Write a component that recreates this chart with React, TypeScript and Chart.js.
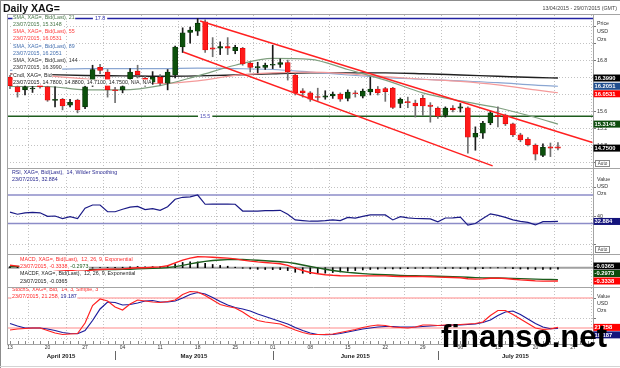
import React, { useEffect, useRef } from 'react';
import { Chart, registerables } from 'chart.js';

Chart.register(...registerables);

const FONT = '"Liberation Sans", Arial, sans-serif';
Chart.defaults.font.family = FONT;

// ---------- axis labels ----------
const dayLabels = ['13', '20', '27', '04', '11', '18', '25', '01', '08', '15', '22', '29', '06', '13', '20', '27'];
const mondayIdx = [0, 5, 10, 15, 20, 25, 30, 35, 40, 45, 50, 55, 60, 65, 70, 75];
const tradingDayCount = 78;
const monthLabels = ['April 2015', 'May 2015', 'June 2015', 'July 2015'];
const monthFirstIdx = [0, 14, 35, 57];
const lastDate = '23/07/2015';
const dateRange = '13/04/2015 - 29/07/2015 (GMT)';
const title = 'Daily XAG=';

// ---------- price candles ----------
const opens = [16.42, 16.19, 16.12, 16.14, 16.24, 16.19, 15.87, 15.9, 15.76, 15.88,
  15.72, 16.3, 16.65, 16.54, 16.12, 16.12, 16.38, 16.56, 16.4, 16.3,
  16.42, 16.28, 16.47, 17.13, 17.47, 17.5, 17.72, 17.11, 17.1, 17.14,
  17.04, 17.1, 16.75, 16.64, 16.65, 16.7, 16.72, 16.76, 16.47, 16.1,
  16.05, 15.95, 15.95, 15.98, 16.02, 15.92, 16.05, 15.97, 16.07, 16.14,
  16.15, 16.16, 15.8, 15.84, 15.81, 15.92, 15.76, 15.69, 15.52, 15.69,
  15.69, 15.7, 15.01, 15.1, 15.34, 15.53, 15.53, 15.32, 15.06, 14.96,
  14.82, 14.58, 14.78, 14.78];
const highs = [16.46, 16.22, 16.22, 16.2, 16.27, 16.21, 16.19, 15.92, 15.9, 15.9,
  16.21, 16.7, 16.72, 16.6, 16.18, 16.25, 16.62, 16.7, 16.45, 16.55,
  16.48, 16.6, 17.15, 17.58, 17.6, 17.8, 17.77, 17.35, 17.25, 17.35,
  17.17, 17.12, 16.77, 16.77, 16.75, 17.17, 16.85, 16.82, 16.5, 16.15,
  16.08, 16.16, 16.1, 16.07, 16.05, 16.12, 16.1, 16.14, 16.42, 16.2,
  16.18, 16.18, 15.93, 15.95, 15.88, 16.0, 15.82, 15.72, 15.72, 15.75,
  15.8, 15.72, 15.25, 15.38, 15.62, 15.72, 15.55, 15.34, 15.1, 15.0,
  14.85, 14.85, 14.87, 14.88];
const lows = [16.15, 15.95, 16.0, 16.06, 16.16, 15.85, 15.72, 15.65, 15.72, 15.58,
  15.68, 16.2, 16.5, 15.95, 15.82, 16.05, 16.3, 16.4, 16.2, 16.25,
  16.22, 16.12, 16.4, 17.0, 17.22, 17.4, 17.0, 16.9, 16.95, 16.95,
  16.97, 16.7, 16.54, 16.52, 16.6, 16.62, 16.65, 16.35, 16.0, 15.95,
  15.85, 15.87, 15.9, 15.92, 15.85, 15.86, 15.95, 15.93, 16.0, 16.0,
  15.85, 15.68, 15.7, 15.7, 15.48, 15.52, 15.36, 15.45, 15.48, 15.6,
  15.6, 14.63, 14.7, 14.98, 15.3, 15.25, 15.28, 15.02, 14.9, 14.8,
  14.47, 14.55, 14.55, 14.71];
const closes = [16.22, 16.07, 16.19, 16.15, 16.19, 15.88, 15.9, 15.74, 15.83, 15.65,
  16.19, 16.6, 16.58, 16.12, 16.1, 16.2, 16.54, 16.48, 16.28, 16.42,
  16.28, 16.54, 17.13, 17.46, 17.53, 17.69, 17.06, 17.08, 17.14, 17.1,
  17.12, 16.73, 16.65, 16.67, 16.7, 16.71, 16.76, 16.54, 16.05, 16.05,
  15.9, 15.94, 15.98, 16.02, 15.9, 16.07, 16.03, 16.09, 16.14, 16.05,
  16.08, 15.71, 15.9, 15.82, 15.74, 15.74, 15.73, 15.5, 15.69, 15.65,
  15.72, 15.01, 15.1, 15.34, 15.58, 15.49, 15.32, 15.06, 14.94, 14.83,
  14.61, 14.77, 14.75, 14.75];

// ---------- moving averages (read at weekly points) ----------
const smaPeriods = [21, 55, 89, 144];
const maIdx = [0, 5, 10, 15, 20, 25, 30, 35, 40, 45, 50, 55, 60, 65, 70, 73];
const sma21 = [16.2, 16.2, 16.12, 16.12, 16.22, 16.45, 16.7, 16.86, 16.84, 16.6, 16.35, 16.05, 15.86, 15.7, 15.47, 15.3148];
const sma55 = [16.5, 16.45, 16.38, 16.3, 16.27, 16.33, 16.46, 16.52, 16.54, 16.5, 16.43, 16.37, 16.32, 16.24, 16.12, 16.0531];
const sma89 = [16.58, 16.6, 16.62, 16.62, 16.62, 16.63, 16.62, 16.6, 16.54, 16.47, 16.41, 16.37, 16.33, 16.29, 16.23, 16.2051];
const sma144 = [16.5, 16.48, 16.46, 16.45, 16.44, 16.45, 16.47, 16.5, 16.52, 16.52, 16.52, 16.5, 16.47, 16.44, 16.41, 16.399];

// ---------- trend channel and levels ----------
const chanUpIdx = [25.33, 77.6];
const chanUpVal = [17.741, 14.882];
const chanLoIdx = [23.07, 64.3];
const chanLoVal = [17.012, 14.33];
const levelHigh = 17.8;
const levelLow = 15.5;

// ---------- indicators ----------
const rsi = [46, 43, 45, 45.5, 45, 40, 40.5, 37, 39.5, 37,
  51.5, 56, 56, 46.5, 46.5, 50, 53, 54, 49.5, 51,
  48.5, 53.5, 64, 66.8, 67.5, 70, 57, 57.3, 57.3, 57.3,
  57, 47.5, 47.3, 47.5, 48, 48.2, 48.5, 43, 35, 34,
  33.2, 33.3, 34, 35, 34, 38.5, 37.5, 40, 42, 42,
  42, 35, 39.5, 38, 37, 36.8, 36.4, 32.3, 37.7, 38,
  39, 27.7, 30, 37, 43.6, 41.5, 38.5, 35, 33, 31.5,
  28, 32.7, 32.7, 32.884];
const rsiLevels = [70, 30];

const macd = [0.06, 0.04, 0.02, 0.0, -0.01, -0.03, -0.045, -0.06, -0.07, -0.085,
  -0.08, -0.06, -0.045, -0.04, -0.035, -0.03, -0.015, 0.0, 0.0, 0.01,
  0.02, 0.05, 0.12, 0.19, 0.24, 0.275, 0.27, 0.26, 0.25, 0.24,
  0.22, 0.19, 0.165, 0.145, 0.13, 0.115, 0.1, 0.06, -0.01, -0.07,
  -0.12, -0.15, -0.175, -0.19, -0.2, -0.205, -0.205, -0.205, -0.205, -0.205,
  -0.205, -0.215, -0.22, -0.22, -0.22, -0.22, -0.225, -0.235, -0.24, -0.245,
  -0.25, -0.275, -0.285, -0.28, -0.265, -0.26, -0.27, -0.29, -0.305, -0.315,
  -0.33, -0.335, -0.335, -0.3338];
const signal = [0.03, 0.03, 0.028, 0.022, 0.016, 0.007, -0.004, -0.015, -0.026, -0.038,
  -0.046, -0.049, -0.048, -0.047, -0.045, -0.042, -0.037, -0.03, -0.024, -0.017,
  -0.01, 0.002, 0.026, 0.059, 0.095, 0.131, 0.159, 0.179, 0.193, 0.203,
  0.207, 0.204, 0.196, 0.186, 0.175, 0.163, 0.15, 0.132, 0.104, 0.069,
  0.031, -0.005, -0.039, -0.069, -0.095, -0.117, -0.134, -0.148, -0.16, -0.169,
  -0.176, -0.184, -0.191, -0.197, -0.201, -0.205, -0.209, -0.214, -0.219, -0.224,
  -0.229, -0.238, -0.247, -0.254, -0.256, -0.257, -0.26, -0.266, -0.272, -0.279,
  -0.286, -0.291, -0.295, -0.2973];
const hist = [0.03, 0.01, -0.008, -0.022, -0.026, -0.037, -0.041, -0.045, -0.044, -0.047,
  -0.034, -0.011, 0.003, 0.007, 0.01, 0.012, 0.022, 0.03, 0.024, 0.027,
  0.03, 0.048, 0.094, 0.131, 0.145, 0.144, 0.111, 0.081, 0.057, 0.037,
  0.013, -0.014, -0.031, -0.041, -0.045, -0.048, -0.05, -0.072, -0.114, -0.139,
  -0.151, -0.145, -0.136, -0.121, -0.105, -0.088, -0.071, -0.057, -0.045, -0.036,
  -0.029, -0.031, -0.029, -0.023, -0.019, -0.015, -0.016, -0.021, -0.021, -0.021,
  -0.021, -0.037, -0.038, -0.026, -0.009, -0.003, -0.01, -0.024, -0.033, -0.036,
  -0.044, -0.044, -0.04, -0.0365];

const stochK = [16, 18, 19, 20, 20, 15, 10, 7, 8, 9,
  30, 65, 78, 74, 62, 56, 68, 76, 74, 72,
  71, 73, 76, 87, 93, 92, 85, 76, 67, 63,
  60, 52, 42, 35, 32, 30, 28, 22, 16, 11,
  7.5, 7, 7.3, 8, 11, 14, 17, 21, 24, 26,
  25, 22, 21, 20, 22, 26, 26, 25, 26, 26,
  27, 28, 29, 32, 45, 55, 55, 47, 38, 29,
  20, 17, 18, 21.258];
const stochD = [29, 24, 20, 20, 20, 18, 15, 11, 9, 8.5,
  15, 35, 58, 72, 71, 66, 67, 70, 74, 75,
  72, 72, 74, 80, 87, 91, 88, 81, 73, 66,
  61, 58, 54, 48, 43, 38, 33, 28, 21, 15,
  10, 7, 6.5, 7, 9, 12, 15, 18, 20, 22,
  23, 23, 22, 22, 22, 23, 24, 25, 25, 26,
  26, 27, 28, 31, 36, 45, 52, 54, 47, 38,
  29, 22, 18.5, 19.187];
const stochLevels = [80, 20];

// ---------- axis ranges / ticks ----------
const X_MIN = -0.4;
const X_MAX = 77.67;
const priceTicks = [14.4, 14.8, 15.2, 15.6, 16.0, 16.4, 16.8, 17.2, 17.6];
const priceTickShown = ['', '14.8', '15.2', '15.6', '16.0', '16.4', '16.8', '', ''];
const rsiTicks = [0, 20, 40, 60, 80, 100];
const rsiTickShown = ['', '20', '40', '60', '', ''];
const stochTicks = [0, 20, 40, 60, 80, 100];

const C = {
  green: '#0c500c', red: '#ff1a1a', navy: '#1a1a86', grid: '#c2c2c2', frame: '#a4a4a4',
  sma21: '#7f9f7f', sma55: '#f49a9a', sma89: '#8aa6d2', sma144: '#202020',
};

function px(v: number) { return v; }

const overlay = {
  id: 'overlay',
  beforeDraw(chart: any) {
    const { ctx } = chart;
    ctx.save();
    ctx.fillStyle = '#ffffff';
    ctx.fillRect(0, 0, chart.width, chart.height);
    ctx.restore();
  },
  afterDatasetsDraw(chart: any) {
    const { ctx, scales } = chart;
    const xs = scales.x;
    const last = closes.length - 1;
    ctx.save();
    ctx.textBaseline = 'middle';
    ctx.font = `5.3px ${FONT}`;

    // level labels (white background)
    const lvl = (txt: string, cx: number, y: number, col: string) => {
      const w = ctx.measureText(txt).width;
      ctx.fillStyle = '#fff';
      ctx.fillRect(cx - w / 2 - 2, y - 3, w + 4, 6);
      ctx.fillStyle = col;
      ctx.textAlign = 'center';
      ctx.fillText(txt, cx, y);
    };
    lvl(levelHigh.toFixed(1), xs.getPixelForValue(12), scales.yP.getPixelForValue(levelHigh), '#2a2aa8');
    lvl(levelLow.toFixed(1), xs.getPixelForValue(26), scales.yP.getPixelForValue(levelLow), '#4a4ab4');

    // legend blocks
    ctx.textAlign = 'left';
    const legendLine = (segs: [string, string][], x: number, y: number) => {
      let cx = x;
      for (const [t, c] of segs) {
        const w = ctx.measureText(t).width;
        ctx.fillStyle = '#fff';
        ctx.fillRect(cx - 0.5, y - 3, w + 1, 6.2);
        ctx.fillStyle = c;
        ctx.fillText(t, cx, y);
        cx += w;
      }
    };
    const f4 = (v: number) => v.toFixed(4);
    const smaVals = [sma21, sma55, sma89, sma144];
    const smaText = ['#4a784a', '#ff3c3c', '#4470b0', '#333333'];
    const priceLegend: [string, string][][] = [];
    smaPeriods.forEach((p, k) => {
      priceLegend.push([[`SMA, XAG=, Bid(Last), ${p}`, smaText[k]]]);
      priceLegend.push([[`${lastDate}, ${f4(smaVals[k][smaVals[k].length - 1])}`, smaText[k]]]);
    });
    priceLegend.push([['Cndl, XAG=, Bid', '#222']]);
    priceLegend.push([[`${lastDate}, ${f4(opens[last])}, ${f4(highs[last])}, ${f4(lows[last])}, ${f4(closes[last])}, N/A, N/A`, '#222']]);
    priceLegend.forEach((segs, k) => legendLine(segs, 13, 17.2 + k * 7.25));

    legendLine([['RSI, XAG=, Bid(Last),  14, Wilder Smoothing', '#2a2a90']], 12, 172.5);
    legendLine([[`${lastDate}, ${rsi[last].toFixed(3)}`, '#2a2a90']], 12, 179.5);

    legendLine([['MACD, XAG=, Bid(Last),  12, 26, 9, Exponential', '#ff2a2a']], 20, 259.5);
    legendLine([[`${lastDate}, ${f4(macd[last])}, `, '#ff2a2a'], [f4(signal[last]), '#1c5c1c']], 20, 266.8);
    legendLine([['MACDF, XAG=, Bid(Last),  12, 26, 9, Exponential', '#222']], 20, 274);
    legendLine([[`${lastDate}, ${f4(hist[last])}`, '#222']], 20, 281.3);

    legendLine([['StochS, XAG=, Bid,  14, 3, Simple, 3', '#ff2a2a']], 12, 290);
    legendLine([[`${lastDate}, ${stochK[last].toFixed(3)}, `, '#ff2a2a'], [stochD[last].toFixed(3), '#1a1a90']], 12, 297);
    ctx.restore();
  },
  afterDraw(chart: any) {
    const { ctx, chartArea: ca, scales } = chart;
    const xs = scales.x;
    const last = closes.length - 1;
    ctx.save();

    // frames and separators
    ctx.strokeStyle = C.frame;
    ctx.lineWidth = 1;
    const hl = (y: number, x1: number, x2: number, col = C.frame) => {
      ctx.strokeStyle = col; ctx.beginPath(); ctx.moveTo(x1, Math.round(y) + 0.5); ctx.lineTo(x2, Math.round(y) + 0.5); ctx.stroke();
    };
    const vl = (x: number, y1: number, y2: number, col = C.frame) => {
      ctx.strokeStyle = col; ctx.beginPath(); ctx.moveTo(Math.round(x) + 0.5, y1); ctx.lineTo(Math.round(x) + 0.5, y2); ctx.stroke();
    };
    hl(ca.top - 1, ca.left, chart.width);
    hl(scales.yP.bottom, ca.left, chart.width);
    hl(scales.yR.bottom, ca.left, chart.width);
    hl(scales.yM.bottom, ca.left, chart.width);
    hl(ca.bottom, ca.left, ca.right);
    vl(ca.left, ca.top - 1, ca.bottom);
    vl(ca.right, ca.top - 1, ca.bottom);
    vl(0, 0, chart.height, '#8c8c8c');
    hl(0, 0, chart.width, '#8c8c8c');
    hl(chart.height - 2, 0, chart.width, '#d4d4d4');

    // day ticks
    for (let i = 0; i < tradingDayCount; i++) {
      const x = xs.getPixelForValue(i);
      vl(x, ca.bottom - 3, ca.bottom, '#8a8a8a');
    }

    // month labels + separators
    ctx.fillStyle = '#222';
    ctx.font = `bold 6px ${FONT}`;
    ctx.textAlign = 'center';
    ctx.textBaseline = 'middle';
    monthLabels.forEach((m, k) => {
      const x1 = k === 0 ? ca.left : xs.getPixelForValue(monthFirstIdx[k]);
      const x2 = k === monthLabels.length - 1 ? ca.right : xs.getPixelForValue(monthFirstIdx[k + 1]);
      ctx.fillStyle = '#222';
      ctx.fillText(m, (x1 + x2) / 2, 356);
      if (k > 0) vl(x1, 351, 360, '#666');
    });

    // right-hand unit labels
    ctx.font = `5.3px ${FONT}`;
    ctx.textAlign = 'left';
    ctx.fillStyle = '#333';
    ['Price', 'USD', 'Ozs'].forEach((t, k) => ctx.fillText(t, 597, 24 + k * 7.8));
    ['Value', 'USD', 'Ozs'].forEach((t, k) => ctx.fillText(t, 597, 180 + k * 7));
    ['Value', 'USD', 'Ozs'].forEach((t, k) => ctx.fillText(t, 597, 297 + k * 7));

    // value boxes
    const boxH = 7;
    const drawBoxes = (items: any[], limit: number) => {
      const s = items.slice().sort((a, b) => a.y - b.y);
      for (let i = 1; i < s.length; i++) if (s[i].y < s[i - 1].y + boxH + 0.5) s[i].y = s[i - 1].y + boxH + 0.5;
      if (s[s.length - 1].y > limit) {
        s[s.length - 1].y = limit;
        for (let i = s.length - 2; i >= 0; i--) s[i].y = Math.min(s[i].y, s[i + 1].y - boxH - 0.5);
      }
      ctx.font = `bold 5.8px ${FONT}`;
      ctx.textAlign = 'left';
      for (const b of s) {
        ctx.fillStyle = b.bg;
        ctx.fillRect(ca.right + 0.5, b.y - boxH / 2, chart.width - ca.right, boxH);
        ctx.fillStyle = '#fff';
        ctx.fillText(b.t, ca.right + 1.5, b.y + 0.3);
      }
    };
    const yP = scales.yP, yR = scales.yR, yM = scales.yM, yS = scales.yS;
    drawBoxes([
      { y: yP.getPixelForValue(sma144[sma144.length - 1]), t: sma144[sma144.length - 1].toFixed(4), bg: '#000' },
      { y: yP.getPixelForValue(sma89[sma89.length - 1]), t: sma89[sma89.length - 1].toFixed(4), bg: '#1f4e8e' },
      { y: yP.getPixelForValue(sma55[sma55.length - 1]), t: sma55[sma55.length - 1].toFixed(4), bg: '#ff0000' },
      { y: yP.getPixelForValue(sma21[sma21.length - 1]), t: sma21[sma21.length - 1].toFixed(4), bg: '#0c4c0c' },
      { y: yP.getPixelForValue(closes[last]), t: closes[last].toFixed(4), bg: '#000' },
    ], yP.bottom - 8);
    drawBoxes([{ y: yR.getPixelForValue(rsi[last]), t: rsi[last].toFixed(3), bg: '#14147c' }], yR.bottom - 8);
    drawBoxes([
      { y: yM.getPixelForValue(hist[last]), t: hist[last].toFixed(4), bg: '#000' },
      { y: yM.getPixelForValue(signal[last]), t: signal[last].toFixed(4), bg: '#0c4c0c' },
      { y: yM.getPixelForValue(macd[last]), t: macd[last].toFixed(4), bg: '#ff0000' },
    ], yM.bottom - 6);
    drawBoxes([
      { y: yS.getPixelForValue(stochK[last]), t: stochK[last].toFixed(3), bg: '#ff0000' },
      { y: yS.getPixelForValue(stochD[last]), t: stochD[last].toFixed(3), bg: '#14147c' },
    ], yS.bottom - 5);

    // Auto boxes
    const auto = (y: number) => {
      ctx.strokeStyle = '#888';
      ctx.strokeRect(595.5, y - 2.5, 14, 6);
      ctx.fillStyle = '#444';
      ctx.font = `4.6px ${FONT}`;
      ctx.textAlign = 'center';
      ctx.fillText('Auto', 602.5, y + 0.6);
    };
    auto(yP.bottom - 5);
    auto(yR.bottom - 5);

    // header
    ctx.textAlign = 'left';
    ctx.textBaseline = 'alphabetic';
    ctx.fillStyle = '#111';
    ctx.font = `bold 10.5px ${FONT}`;
    ctx.fillText(title, 3, 11.5);
    ctx.font = `5.3px ${FONT}`;
    ctx.fillStyle = '#444';
    ctx.textAlign = 'right';
    ctx.fillText(dateRange, 617, 9.5);

    // watermark
    ctx.textAlign = 'left';
    ctx.font = `bold 32px ${FONT}`;
    const wm = 'finanso.net';
    const w = ctx.measureText(wm).width;
    ctx.translate(441, 347);
    ctx.scale(166 / w, 1);
    ctx.fillStyle = '#000';
    ctx.fillText(wm, 0, 0);
    ctx.restore();
  },
};

export default function App() {
  const ref = useRef<HTMLCanvasElement>(null);
  useEffect(() => {
    document.body.style.margin = '0';
    const canvas = ref.current as HTMLCanvasElement;
    const idx = closes.map((_, i) => i);
    const up = idx.map((i) => closes[i] >= opens[i]);
    const line = (yAxisID: string, data: any[], color: string, width: number, order: number, extra: any = {}) => ({
      type: 'line', xAxisID: 'x', yAxisID, data, borderColor: color, backgroundColor: color,
      borderWidth: width, pointRadius: 0, fill: false, order, tension: 0, ...extra,
    });
    const series = (arr: number[]) => idx.map((i) => ({ x: i, y: arr[i] }));
    const ma = (arr: number[]) => maIdx.map((x, k) => ({ x, y: arr[k] }));
    const flat = (v: number) => [{ x: X_MIN, y: v }, { x: X_MAX, y: v }];

    const datasets: any[] = [
      // price
      line('yP', [{ x: chanUpIdx[0], y: chanUpVal[0] }, { x: chanUpIdx[1], y: chanUpVal[1] }], '#ff2020', 1.4, 0),
      line('yP', [{ x: chanLoIdx[0], y: chanLoVal[0] }, { x: chanLoIdx[1], y: chanLoVal[1] }], '#ff2020', 1.4, 0),
      {
        type: 'bar', xAxisID: 'x', yAxisID: 'yP', order: 1, grouped: false, barThickness: 5, minBarLength: 1,
        data: idx.map((i) => ({ x: i, y: [opens[i], closes[i]] })),
        backgroundColor: idx.map((i) => (up[i] ? C.green : C.red)),
        borderColor: idx.map((i) => (up[i] ? '#042804' : '#d80000')),
        borderWidth: 0.6, borderSkipped: false,
      },
      {
        type: 'bar', xAxisID: 'x', yAxisID: 'yP', order: 2, grouped: false, barThickness: 1,
        data: idx.map((i) => ({ x: i, y: [lows[i], highs[i]] })),
        backgroundColor: idx.map((i) => (up[i] ? '#1c1c1c' : '#707070')),
        borderWidth: 0,
      },
      line('yP', ma(sma21), C.sma21, 1.2, 3, { cubicInterpolationMode: 'monotone' }),
      line('yP', ma(sma55), C.sma55, 1.2, 4, { cubicInterpolationMode: 'monotone' }),
      line('yP', ma(sma89), C.sma89, 1.2, 5, { cubicInterpolationMode: 'monotone' }),
      line('yP', ma(sma144), C.sma144, 1.4, 6, { cubicInterpolationMode: 'monotone' }),
      line('yP', flat(levelHigh), '#2222a2', 1.5, 7),
      line('yP', flat(levelLow), '#1e5c1e', 1.5, 7),
      // RSI
      line('yR', series(rsi), C.navy, 1.2, 1),
      line('yR', flat(rsiLevels[0]), '#8c8cc8', 1.5, 2),
      line('yR', flat(rsiLevels[1]), '#8c8cc8', 1.5, 2),
      // MACD
      line('yM', series(macd), '#ff2020', 1.4, 1),
      line('yM', series(signal), '#1c5c1c', 1.4, 2),
      {
        type: 'bar', xAxisID: 'x', yAxisID: 'yM', order: 3, grouped: false, barThickness: 1,
        data: idx.map((i) => ({ x: i, y: hist[i] })), backgroundColor: '#000', borderWidth: 0,
      },
      line('yM', flat(0), '#a0a0a0', 2, 4),
      // Stochastic
      line('yS', series(stochK), '#ff2020', 1.2, 1),
      line('yS', series(stochD), '#1c1c9c', 1.2, 2),
      line('yS', flat(stochLevels[0]), '#ffb0b0', 1.6, 3),
      line('yS', flat(stochLevels[1]), '#ff8a8a', 1.2, 3),
    ];

    const yBase = (extra: any) => ({
      type: 'linear', position: 'right', stack: 'panels', offset: false,
      afterFit: (s: any) => { s.width = 27; },
      grid: { color: C.grid, lineWidth: 1, drawTicks: true, tickLength: 3, tickColor: '#777' },
      border: { display: false, dash: [1, 2] },
      ticks: { padding: 1, font: { size: 5.3 }, color: '#333' },
      ...extra,
    });

    const chart = new Chart(canvas, {
      type: 'bar',
      data: { datasets },
      plugins: [overlay],
      options: {
        responsive: false,
        animation: false,
        devicePixelRatio: 1,
        events: [],
        layout: { padding: { top: 15, left: 7, right: 0, bottom: 0 } },
        plugins: { legend: { display: false }, tooltip: { enabled: false } },
        scales: {
          yP: yBase({
            stackWeight: 153, min: 14.282, max: 17.882,
            afterBuildTicks: (s: any) => { s.ticks = priceTicks.map((v) => ({ value: v })); },
            ticks: { padding: 1, font: { size: 5.3 }, color: '#333', callback: (_v: any, i: number) => priceTickShown[i] },
          }),
          yR: yBase({
            stackWeight: 86, min: -12.8, max: 107.9,
            afterBuildTicks: (s: any) => { s.ticks = rsiTicks.map((v) => ({ value: v })); },
            ticks: { padding: 1, font: { size: 5.3 }, color: '#333', callback: (_v: any, i: number) => rsiTickShown[i] },
          }),
          yM: yBase({
            stackWeight: 33, min: -0.4825, max: 0.3425,
            afterBuildTicks: (s: any) => { s.ticks = []; },
            grid: { display: false },
          }),
          yS: yBase({
            stackWeight: 57, min: -12, max: 102,
            afterBuildTicks: (s: any) => { s.ticks = stochTicks.map((v) => ({ value: v })); },
            ticks: { padding: 1, font: { size: 5.3 }, color: '#333', callback: () => '' },
          }),
          x: {
            type: 'linear', position: 'bottom', min: X_MIN, max: X_MAX, offset: false,
            afterBuildTicks: (s: any) => { s.ticks = mondayIdx.map((v) => ({ value: v })); },
            afterFit: (s: any) => { s.height = 24; },
            grid: { color: C.grid, lineWidth: 1, drawTicks: false },
            border: { display: false, dash: [1, 2] },
            ticks: {
              autoSkip: false, maxRotation: 0, minRotation: 0, padding: 1,
              font: { size: 5 }, color: '#333',
              callback: (_v: any, i: number) => dayLabels[i] ?? '',
            },
          },
        },
      } as any,
    } as any);
    return () => chart.destroy();
  }, []);
  return <canvas ref={ref} width={620} height={368} style={{ display: 'block', width: 620, height: 368 }} />;
}
